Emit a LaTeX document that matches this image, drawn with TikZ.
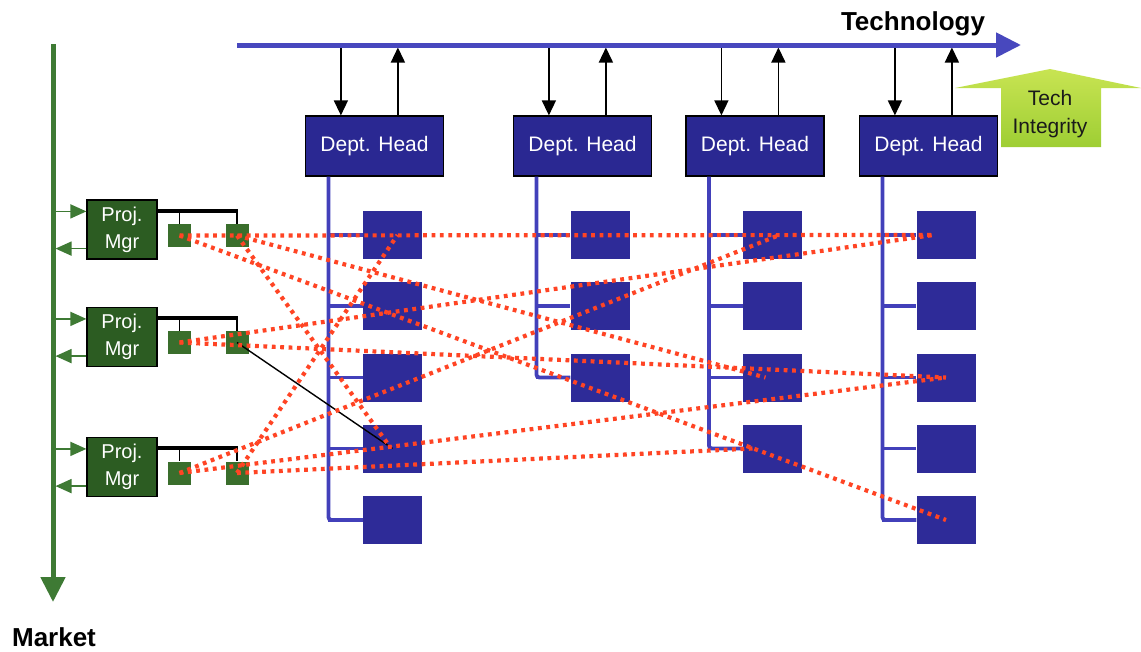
\documentclass[tikz,border=0pt]{standalone}
\usepackage{fontspec}
\setmainfont{Liberation Sans}
\usetikzlibrary{arrows.meta,calc}

\definecolor{deptblue}{RGB}{42,40,146}
\definecolor{cellblue}{RGB}{46,43,152}
\definecolor{linkblue}{RGB}{66,64,186}
\definecolor{techblue}{RGB}{72,72,190}
\definecolor{mktgreen}{RGB}{62,122,52}
\definecolor{pmgreen}{RGB}{44,92,34}
\definecolor{tskgreen}{RGB}{58,110,44}
\definecolor{dotred}{RGB}{255,68,36}
\definecolor{integtop}{RGB}{200,228,82}
\definecolor{integbot}{RGB}{158,206,52}
\definecolor{inktext}{RGB}{26,26,26}

\begin{document}
\begin{tikzpicture}[x=1pt,y=-1pt,
  dept/.style={draw=black,line width=1.2pt,fill=deptblue,minimum width=138pt,
    minimum height=60pt,inner sep=0pt,text=white,font=\fontsize{21}{25}\selectfont},
  cell/.style={fill=cellblue,minimum width=59pt,minimum height=48pt,inner sep=0pt},
  trunk/.style={draw=linkblue,line width=3.8pt},
  flow/.style={draw=black,line width=1.4pt,-{Triangle[length=15pt,width=14pt]}},
  techline/.style={draw=techblue,line width=5pt,
    -{Triangle[length=25pt,width=24pt]}},
  mktline/.style={draw=mktgreen,line width=5pt,
    -{Triangle[length=25pt,width=24pt]}},
  pmflow/.style={draw=mktgreen,fill=mktgreen,line width=1.6pt,
    -{Triangle[length=16pt,width=14pt]}},
  pm/.style={draw=black,line width=1.2pt,fill=pmgreen,minimum width=70pt,
    minimum height=59pt,inner sep=0pt,text=white,align=center,
    font=\fontsize{20}{27}\selectfont},
  tsk/.style={fill=tskgreen,minimum width=23pt,minimum height=23pt,inner sep=0pt},
  bracket/.style={draw=black,line width=4pt},
  stem/.style={draw=black,line width=1.4pt},
  link/.style={draw=dotred,line width=4.2pt,dash pattern=on 3.8pt off 4.6pt},
  axislabel/.style={font=\bfseries\fontsize{26}{30}\selectfont,text=black,anchor=base,inner sep=0pt},
  integ/.style={font=\fontsize{21}{25}\selectfont,text=inktext,anchor=base,inner sep=0pt}
]
\useasboundingbox (0,0) rectangle (1141,651);

% axes end points
\coordinate (techL) at (237,45);
\coordinate (techR) at (1021,45);
\coordinate (mktT) at (53,44);
\coordinate (mktB) at (53,602);

% department heads
\node[dept] (dh1) at (374.5,146) {Dept. Head};
\node[dept] (dh2) at (582.5,146) {Dept. Head};
\node[dept] (dh3) at (755,146) {Dept. Head};
\node[dept] (dh4) at (928.5,146) {Dept. Head};

% exchange with the technology line
\foreach \c in {1,2,3,4}{
  \coordinate (din\c) at ($(dh\c.north west)+(36,0)$);
  \coordinate (dout\c) at ($(dh\c.north west)+(93,0)$);
  \draw[flow] (din\c |- techL) -- (din\c);
  \draw[flow,shorten >=2.5pt] (dout\c) -- (dout\c |- techL);
}
\draw[techline] (techL) -- (techR);
\node[axislabel] (techlabel) at (913,30) {Technology};

% resource cells of each department
\foreach \c/\x/\n in {1/392.5/5,2/600/3,3/772.5/4,4/946/5}{
  \foreach \r/\y in {1/235,2/306,3/377.5,4/448.5,5/520}{
    \ifnum\r>\n\relax\else
      \node[cell] (s\c\r) at (\x,\y) {};
    \fi
  }
}

% department trunks and branches
\foreach \c/\n in {1/5,2/3,3/4,4/5}{
  \coordinate (k\c) at ($(dh\c.south west)+(23.5,0)$);
  \draw[trunk,rounded corners=3pt] (k\c) -- (k\c |- s\c\n) -- (s\c\n.west);
  \foreach \r in {1,...,\n}{
    \draw[trunk] (k\c |- s\c\r) -- (s\c\r.west);
  }
}

% tech integrity arrow
\shade[top color=integtop,bottom color=integbot]
  (1001,147) -- (1001,88) -- (955,88) -- (1050,69) -- (1141,88)
  -- (1101,88) -- (1101,147) -- cycle;
\node[integ] (ti1) at (1050,105) {Tech};
\node[integ] (ti2) at (1050,133) {Integrity};

% market line
\draw[mktline] (mktT) -- (mktB);
\node[axislabel] (mktlabel) at (54,646) {Market};

% project managers and their tasks
\node[pm] (pm1) at (122,229.5) {Proj.\\Mgr};
\node[pm] (pm2) at (122,337) {Proj.\\Mgr};
\node[pm] (pm3) at (122,467) {Proj.\\Mgr};

\node[tsk] (ta1) at (179.5,235.5) {};
\node[tsk] (tb1) at (237,235.5) {};
\node[tsk] (ta2) at (179.5,342.5) {};
\node[tsk] (tb2) at (237,342.5) {};
\node[tsk] (ta3) at (179.5,473) {};
\node[tsk] (tb3) at (237,473) {};

\foreach \p in {1,2,3}{
  \coordinate (pin\p) at ($(pm\p.north west)+(0,12)$);
  \coordinate (pout\p) at ($(pm\p.south west)+(0,-11)$);
  \draw[pmflow] (mktT |- pin\p) -- (pin\p);
  \draw[pmflow,shorten >=2.5pt] (pout\p) -- (mktT |- pout\p);
  \coordinate (br\p) at ($(pm\p.north east)+(0,11.5)$);
  \draw[stem] (br\p -| ta\p) -- (ta\p.north);
  \draw[stem] (br\p -| tb\p) -- (tb\p.north);
  \draw[bracket] (br\p) -- ($(br\p -| tb\p)+(1,0)$);
}

% direct assignment
\draw[draw=black,line width=1.4pt] (tb2.center) -- (s14.center);

% matrix assignments
\draw[link] (ta1.center) -- ($(s41.center)+(-13,0)$);
\draw[link] (ta1.center) -- (s45.center);
\draw[link] (tb1.center) -- ($(s33.center)+(-7,0)$);
\draw[link] (tb1.center) -- ($(s14.center)+(-2,-1)$);
\draw[link] (ta2.center) -- ($(s41.center)+(-13,0)$);
\draw[link] (ta2.center) -- (s43.center);
\draw[link] (ta3.center) -- ($(s31.center)+(7,0)$);
\draw[link] (ta3.center) -- (s43.center);
\draw[link] (tb3.center) -- ($(s11.center)+(5,0)$);
\draw[link] (tb3.center) -- ($(s34.center)+(-20,0)$);
\end{tikzpicture}
\end{document}
